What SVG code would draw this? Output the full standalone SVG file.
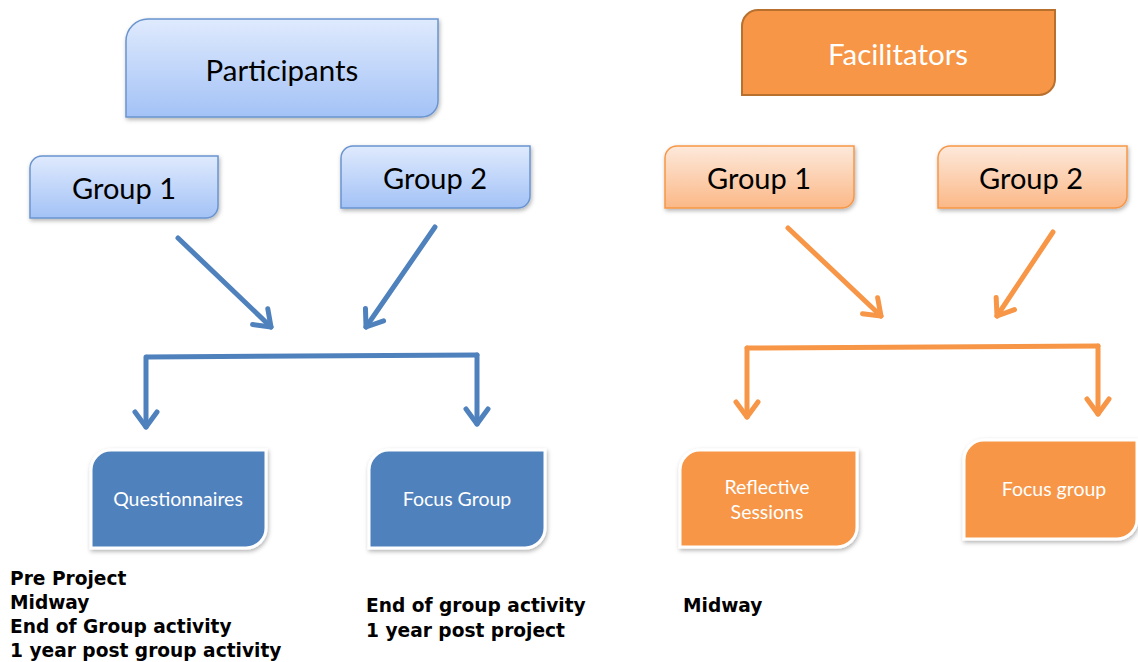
<svg xmlns="http://www.w3.org/2000/svg" width="1138" height="662" viewBox="0 0 1138 662">
<defs>
<linearGradient id="gBlue" x1="0" y1="0" x2="0" y2="1">
<stop offset="0" stop-color="#DFEAFD"/><stop offset="1" stop-color="#A3C2F6"/>
</linearGradient>
<linearGradient id="gOrange" x1="0" y1="0" x2="0" y2="1">
<stop offset="0" stop-color="#FDE9DB"/><stop offset="1" stop-color="#FBB887"/>
</linearGradient>
<filter id="sh" x="-10%" y="-10%" width="125%" height="130%">
<feDropShadow dx="1" dy="2" stdDeviation="2" flood-color="#000" flood-opacity="0.3"/>
</filter>
<marker id="aB" markerUnits="userSpaceOnUse" markerWidth="40" markerHeight="40" viewBox="-20 -20 40 40" refX="0" refY="0" orient="auto" overflow="visible">
<path d="M-15,-11 L0,0 L-15,11" fill="none" stroke="#4F81BD" stroke-width="5" stroke-linecap="round" stroke-linejoin="round"/>
</marker>
<marker id="aO" markerUnits="userSpaceOnUse" markerWidth="40" markerHeight="40" viewBox="-20 -20 40 40" refX="0" refY="0" orient="auto" overflow="visible">
<path d="M-15,-11 L0,0 L-15,11" fill="none" stroke="#F79646" stroke-width="5" stroke-linecap="round" stroke-linejoin="round"/>
</marker>
</defs>
<style>
.lbl{font-family:Lato,"Open Sans","Liberation Sans",sans-serif;text-anchor:middle;dominant-baseline:central}
.big{font-size:29.5px}
.mid{font-size:29px}
.sm{font-size:19.5px}
.dk{fill:#000}
.wt{fill:#fff}
.blueTop{fill:url(#gBlue);stroke:#6A94CF;stroke-width:1.5}
.orTop{fill:url(#gOrange);stroke:#F79646;stroke-width:1.5}
.orMain{fill:#F79646;stroke:#B8702F;stroke-width:2}
.bBox{fill:#4F81BD;stroke:#fff;stroke-width:3}
.oBox{fill:#F79646;stroke:#fff;stroke-width:3}
.cB{fill:none;stroke:#4F81BD;stroke-width:5;stroke-linecap:round}
.cO{fill:none;stroke:#F79646;stroke-width:5;stroke-linecap:round}
.note{font-family:"DejaVu Sans","Liberation Sans",sans-serif;font-weight:bold;font-size:18.6px;fill:#000}
</style>
<rect width="1138" height="662" fill="#fff"/>

<g id="participants">
<path class="blueTop" filter="url(#sh)" d="M148,19 H438 V101 A16,16 0 0 1 422,117 H126 V41 A22,22 0 0 1 148,19 Z"/>
<text class="lbl big dk" x="282" y="69">Participants</text>
</g>
<g id="p-group1">
<path class="blueTop" filter="url(#sh)" d="M42,156 H218 V206 A12,12 0 0 1 206,218 H30 V168 A12,12 0 0 1 42,156 Z"/>
<text class="lbl mid dk" x="124" y="187">Group 1</text>
</g>
<g id="p-group2">
<path class="blueTop" filter="url(#sh)" d="M353,146 H530 V196 A12,12 0 0 1 518,208 H341 V158 A12,12 0 0 1 353,146 Z"/>
<text class="lbl mid dk" x="435" y="177">Group 2</text>
</g>
<g id="facilitators">
<path class="orMain" d="M758,10 H1055 V79 A16,16 0 0 1 1039,95 H742 V26 A16,16 0 0 1 758,10 Z"/>
<text class="lbl big wt" x="898" y="53">Facilitators</text>
</g>
<g id="f-group1">
<path class="orTop" filter="url(#sh)" d="M677,146 H854 V196 A12,12 0 0 1 842,208 H665 V158 A12,12 0 0 1 677,146 Z"/>
<text class="lbl mid dk" x="759" y="177">Group 1</text>
</g>
<g id="f-group2">
<path class="orTop" filter="url(#sh)" d="M950,146 H1127 V196 A12,12 0 0 1 1115,208 H938 V158 A12,12 0 0 1 950,146 Z"/>
<text class="lbl mid dk" x="1031" y="177">Group 2</text>
</g>

<g id="questionnaires">
<path class="bBox" filter="url(#sh)" d="M111,450 H266 V528 A20,20 0 0 1 246,548 H91 V470 A20,20 0 0 1 111,450 Z"/>
<text class="lbl sm wt" x="178" y="498">Questionnaires</text>
</g>
<g id="p-focus">
<path class="bBox" filter="url(#sh)" d="M389,450 H545 V528 A20,20 0 0 1 525,548 H369 V470 A20,20 0 0 1 389,450 Z"/>
<text class="lbl sm wt" x="457" y="498">Focus Group</text>
</g>
<g id="reflective">
<path class="oBox" filter="url(#sh)" d="M700,450 H857 V527 A20,20 0 0 1 837,547 H680 V470 A20,20 0 0 1 700,450 Z"/>
<text class="lbl sm wt" x="767" y="486">Reflective</text>
<text class="lbl sm wt" x="767" y="511">Sessions</text>
</g>
<g id="f-focus">
<path class="oBox" filter="url(#sh)" d="M984,440 H1137 V519 A20,20 0 0 1 1117,539 H964 V460 A20,20 0 0 1 984,440 Z"/>
<text class="lbl sm wt" x="1054" y="488">Focus group</text>
</g>

<g id="connectors">
<path class="cB" d="M178,238 L271,327" marker-end="url(#aB)"/>
<path class="cB" d="M435,227 L366,327" marker-end="url(#aB)"/>
<path class="cB" d="M147,357 L477,355"/>
<path class="cB" d="M146,357 V427" marker-end="url(#aB)"/>
<path class="cB" d="M477,355 V424" marker-end="url(#aB)"/>
<path class="cO" d="M788,228 L881,316" marker-end="url(#aO)"/>
<path class="cO" d="M1053,232 L997,316" marker-end="url(#aO)"/>
<path class="cO" d="M747,348 L1098,346"/>
<path class="cO" d="M747,348 V417" marker-end="url(#aO)"/>
<path class="cO" d="M1098,346 V414" marker-end="url(#aO)"/>
</g>

<g id="notes">
<text class="note" x="10" y="585">Pre Project</text>
<text class="note" x="10" y="609">Midway</text>
<text class="note" x="10" y="633">End of Group activity</text>
<text class="note" x="10" y="657">1 year post group activity</text>
<text class="note" x="366" y="612">End of group activity</text>
<text class="note" x="366" y="637">1 year post project</text>
<text class="note" x="683" y="612">Midway</text>
</g>
</svg>
